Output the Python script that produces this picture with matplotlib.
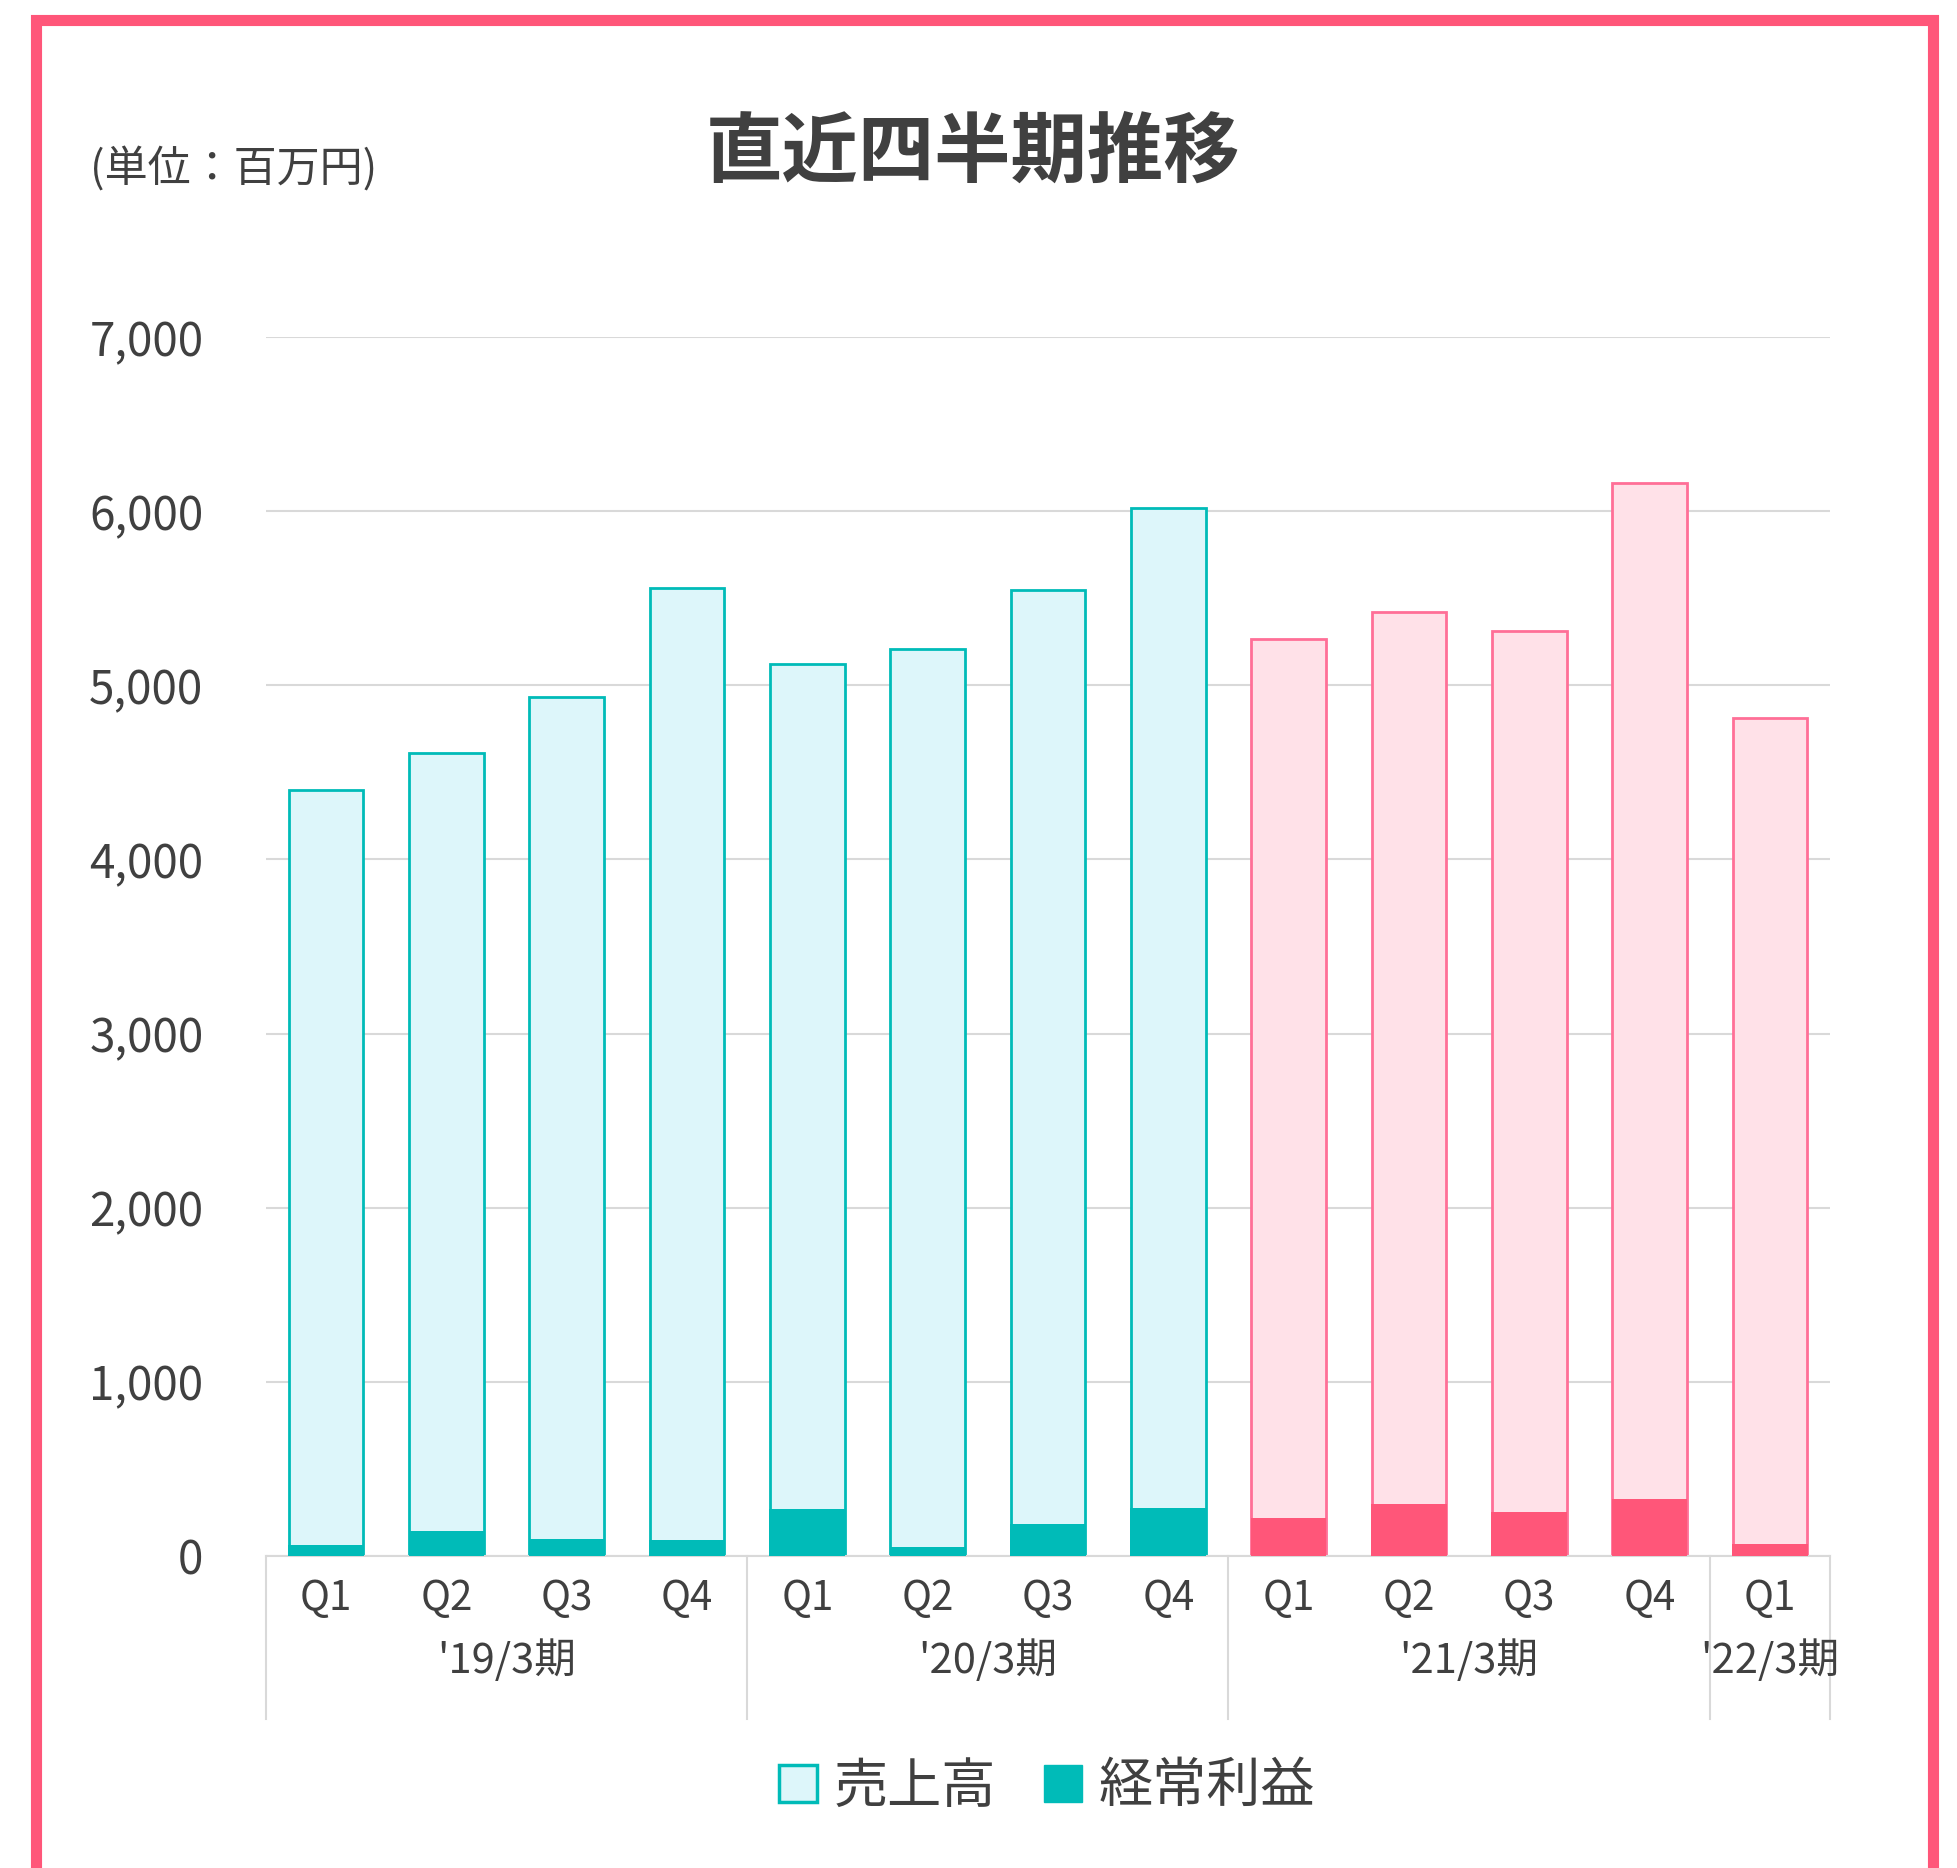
import matplotlib
matplotlib.use("Agg")
import matplotlib.pyplot as plt
import matplotlib.transforms as mtransforms
from matplotlib.patches import Patch, Rectangle

plt.rcParams['font.family'] = ['Noto Sans CJK JP', 'DejaVu Sans']

# data (百万円)
quarters = ['Q1', 'Q2', 'Q3', 'Q4', 'Q1', 'Q2', 'Q3', 'Q4', 'Q1', 'Q2', 'Q3', 'Q4', 'Q1']
sales = [4400, 4610, 4930, 5560, 5120, 5210, 5550, 6020, 5265, 5420, 5310, 6160, 4810]
profit = [63, 145, 96, 90, 272, 52, 184, 276, 218, 300, 253, 327, 67]
periods = ["'19/3期", "'20/3期", "'21/3期", "'22/3期"]
period_len = [4, 4, 4, 1]

teal = '#00BBB8'
teal_light = '#DDF6FA'
red = '#FF5679'
pink_edge = '#FF6F97'
pink_light = '#FFE1E8'
txt = '#404040'
grid = '#D9D9D9'

fig = plt.figure(figsize=(19.57, 18.68), dpi=100)
ax = fig.add_axes([0.1359, 0.167, 0.7992, 0.6526])

x = list(range(len(sales)))
# first 8 quarters teal, later ones pink
fc = [teal_light] * 8 + [pink_light] * 5
ec = [teal] * 8 + [pink_edge] * 5
pc = [teal] * 8 + [red] * 5

ax.bar(x, sales, width=0.62, color=fc, edgecolor=ec, linewidth=2, zorder=2)
ax.bar(x, profit, width=0.63, color=pc, linewidth=0, zorder=3)

ax.set_xlim(-0.5, len(sales) - 0.5)
ax.set_ylim(0, 7000)
ax.set_yticks(range(0, 7001, 1000))
ax.set_yticklabels([f'{v:,}' for v in range(0, 7001, 1000)], fontsize=33, color=txt)
ax.yaxis.grid(True, color=grid, linewidth=1.5)
ax.set_axisbelow(True)
ax.tick_params(axis='y', length=0, pad=45)

ax.set_xticks(x)
ax.set_xticklabels(quarters, fontsize=29, color=txt)
ax.tick_params(axis='x', length=0, pad=16)

for s in ['top', 'right', 'left']:
    ax.spines[s].set_visible(False)
ax.spines['bottom'].set_color(grid)
ax.spines['bottom'].set_linewidth(1.5)

# group separators and period labels
trans = mtransforms.blended_transform_factory(ax.transData, ax.transAxes)
start = -0.5
for name, n in zip(periods, period_len):
    ax.plot([start, start], [0, -0.134], transform=trans, color=grid,
            linewidth=1.5, clip_on=False)
    ax.text(start + n / 2, -0.086, name, transform=trans, ha='center',
            va='center', fontsize=30, color=txt)
    start += n
ax.plot([start, start], [0, -0.134], transform=trans, color=grid,
        linewidth=1.5, clip_on=False)

fig.text(0.497, 0.918, '直近四半期推移', ha='center', va='center',
         fontsize=55, fontweight='bold', color=txt)
fig.text(0.046, 0.909, '(単位：百万円)', ha='left', va='center',
         fontsize=31, color=txt)

handles = [Patch(facecolor=teal_light, edgecolor=teal, linewidth=2.5),
           Patch(facecolor=teal, edgecolor=teal)]
fig.legend(handles, ['売上高', '経常利益'], loc='center',
           bbox_to_anchor=(0.535, 0.0434), ncol=2, frameon=False,
           fontsize=39, labelcolor=txt, handlelength=0.7, handleheight=0.7,
           handletextpad=0.3, columnspacing=0.9)

# outer frame
fig.patches.append(Rectangle((36 / 1957, -5 / 1868), 1897 / 1957, 1853 / 1868,
                             transform=fig.transFigure, fill=False,
                             edgecolor=red, linewidth=8, zorder=10))

fig.savefig('out.png', dpi=100, facecolor='white')
